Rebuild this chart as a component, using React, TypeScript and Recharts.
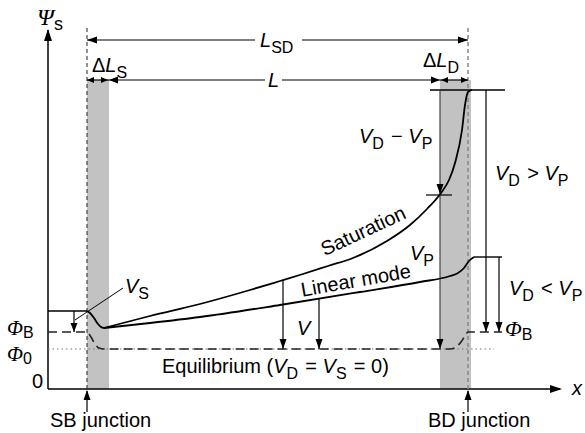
import React from 'react';
import {
  LineChart,
  Line,
  XAxis,
  YAxis,
  ReferenceArea,
  ReferenceLine,
  ReferenceDot,
} from 'recharts';

// position along channel (x) and surface potential (psi), arbitrary units
const sourceDrop = [
  { x: 39, y: 78 },
  { x: 42, y: 76 },
  { x: 46, y: 71 },
  { x: 50, y: 65 },
  { x: 53, y: 62 },
  { x: 56, y: 61 },
];

const saturation = [
  { x: 56, y: 61 },
  { x: 102, y: 73 },
  { x: 152, y: 85 },
  { x: 202, y: 99 },
  { x: 232, y: 108 },
  { x: 255, y: 115 },
  { x: 280, y: 123 },
  { x: 305, y: 131 },
  { x: 339, y: 148 },
  { x: 362, y: 164 },
  { x: 379, y: 180 },
  { x: 393, y: 196 },
  { x: 401, y: 209 },
  { x: 407, y: 226 },
  { x: 414, y: 259 },
  { x: 417, y: 284 },
  { x: 420, y: 297 },
  { x: 424, y: 299 },
];

const linearMode = [
  { x: 56, y: 61 },
  { x: 102, y: 66 },
  { x: 152, y: 72 },
  { x: 232, y: 84 },
  { x: 312, y: 97 },
  { x: 372, y: 107 },
  { x: 402, y: 113 },
  { x: 410, y: 116 },
  { x: 416, y: 121 },
  { x: 421, y: 128 },
  { x: 426, y: 132 },
];

const equilibrium = [
  { x: 0, y: 57 },
  { x: 39, y: 57 },
  { x: 43, y: 52 },
  { x: 47, y: 45 },
  { x: 51, y: 41 },
  { x: 56, y: 40 },
  { x: 402, y: 40 },
  { x: 408, y: 42 },
  { x: 413, y: 47 },
  { x: 417, y: 53 },
  { x: 420, y: 57 },
  { x: 454, y: 57 },
];

// junctions, bands and levels
const SB = 39;
const BD = 420;
const sourceBand = [39, 61];
const drainBand = [392, 423];
const PHI0 = 40;
const PHIB = 57;
const VS_LEVEL = 78;
const VP_LEVEL = 132;
const PINCH = 194;
const TOP_LEVEL = 299;
const L_ROW = 309;
const LSD_ROW = 349;

const SANS = '"Liberation Sans", Arial, sans-serif';
const SERIF = '"Liberation Serif", "Times New Roman", serif';
const FS = 20;
const SUB = 16;

type Dir = 'up' | 'down' | 'left' | 'right';

const arrowHead = (dir: Dir, len = 10, hw = 3.5) => (p: any) => {
  const { cx, cy } = p;
  let pts = '';
  if (dir === 'down') pts = `${cx},${cy} ${cx - hw},${cy - len} ${cx + hw},${cy - len}`;
  if (dir === 'up') pts = `${cx},${cy} ${cx - hw},${cy + len} ${cx + hw},${cy + len}`;
  if (dir === 'left') pts = `${cx},${cy} ${cx + len},${cy - hw} ${cx + len},${cy + hw}`;
  if (dir === 'right') pts = `${cx},${cy} ${cx - len},${cy - hw} ${cx - len},${cy + hw}`;
  return <polygon points={pts} fill="#000" />;
};

const textShape = (content: React.ReactNode, anchor = 'start', rotate = 0) => (p: any) => (
  <text
    x={p.cx}
    y={p.cy}
    textAnchor={anchor}
    fontFamily={SANS}
    fontSize={FS}
    fill="#000"
    transform={rotate ? `rotate(${rotate} ${p.cx} ${p.cy})` : undefined}
  >
    {content}
  </text>
);

const It = ({ children }: { children: React.ReactNode }) => (
  <tspan fontStyle="italic">{children}</tspan>
);
const Gr = ({ children, size = FS + 2 }: { children: React.ReactNode; size?: number }) => (
  <tspan fontStyle="italic" fontFamily={SERIF} fontSize={size}>
    {children}
  </tspan>
);
const Sub = ({ children, dy = 6 }: { children: React.ReactNode; dy?: number }) => (
  <>
    <tspan fontSize={SUB} dy={dy}>
      {children}
    </tspan>
    <tspan dy={-dy}>{'\u200a'}</tspan>
  </>
);

const seg = (x1: number, y1: number, x2: number, y2: number, key: string, extra: any = {}) => (
  <ReferenceLine
    key={key}
    segment={[
      { x: x1, y: y1 },
      { x: x2, y: y2 },
    ]}
    stroke="#000"
    strokeWidth={1.2}
    ifOverflow="visible"
    {...extra}
  />
);

const dot = (x: number, y: number, shape: any, key: string) => (
  <ReferenceDot key={key} x={x} y={y} r={0} ifOverflow="visible" shape={shape} />
);

export default function App() {
  return (
    <div style={{ position: 'absolute', left: 0, top: 0, background: '#fff' }}>
      <LineChart
        width={585}
        height={433}
        margin={{ top: 29, right: 21, bottom: 44, left: 48 }}
      >
        <XAxis type="number" dataKey="x" domain={[0, 516]} allowDataOverflow hide />
        <YAxis type="number" domain={[0, 360]} allowDataOverflow hide />

        <ReferenceArea
          x1={sourceBand[0]}
          x2={sourceBand[1]}
          y1={0}
          y2={L_ROW}
          fill="#c2c2c2"
          fillOpacity={1}
          stroke="none"
          ifOverflow="visible"
        />
        <ReferenceArea
          x1={drainBand[0]}
          x2={drainBand[1]}
          y1={0}
          y2={L_ROW}
          fill="#c2c2c2"
          fillOpacity={1}
          stroke="none"
          ifOverflow="visible"
        />

        {/* axes */}
        {seg(0, 0, 0, 359, 'yax', { strokeWidth: 1.5 })}
        {seg(0, 0, 512, 0, 'xax', { strokeWidth: 1.5 })}
        {dot(0, 360, arrowHead('up', 12, 4), 'yah')}
        {dot(514, 0, arrowHead('right', 12, 4), 'xah')}

        {/* junction dashed lines */}
        {seg(SB, 0, SB, 362, 'sbl', { strokeDasharray: '4 3', stroke: '#222', strokeWidth: 1 })}
        {seg(BD, 0, BD, 361, 'bdl', { strokeDasharray: '4 3', stroke: '#888', strokeWidth: 1.5 })}

        {/* phi0 dotted */}
        {seg(0, PHI0, 446, PHI0, 'phi0', { strokeDasharray: '1.5 3', stroke: '#777', strokeWidth: 1 })}

        {/* top dimension arrows */}
        {seg(SB, LSD_ROW, 207, LSD_ROW, 'lsd1')}
        {seg(254, LSD_ROW, BD, LSD_ROW, 'lsd2')}
        {dot(SB, LSD_ROW, arrowHead('left'), 'lsda')}
        {dot(BD, LSD_ROW, arrowHead('right'), 'lsdb')}
        {seg(sourceBand[1], L_ROW, 217, L_ROW, 'l1')}
        {seg(234, L_ROW, drainBand[0], L_ROW, 'l2')}
        {dot(sourceBand[1], L_ROW, arrowHead('left', 9), 'la')}
        {dot(drainBand[0], L_ROW, arrowHead('right', 9), 'lb')}
        {seg(SB, L_ROW, sourceBand[1], L_ROW, 'dls')}
        {dot(SB, L_ROW, arrowHead('left', 7, 3), 'dlsa')}
        {dot(sourceBand[1] - 1, L_ROW, arrowHead('right', 7, 3), 'dlsb')}
        {seg(drainBand[0], L_ROW, BD, L_ROW, 'dld')}
        {dot(drainBand[0] + 1, L_ROW, arrowHead('left', 7, 3), 'dlda')}
        {dot(BD, L_ROW, arrowHead('right', 7, 3), 'dldb')}

        {/* source side */}
        {seg(0, VS_LEVEL, SB, VS_LEVEL, 'vsl', { strokeWidth: 1.4 })}
        {seg(26, VS_LEVEL, 26, PHIB, 'vsa')}
        {dot(26, PHIB, arrowHead('down', 9, 3.5), 'vsah')}
        {seg(27, 69, 75, 101, 'vslead', { strokeWidth: 1 })}

        {/* drain side */}
        {seg(382, TOP_LEVEL, 457, TOP_LEVEL, 'top', { strokeWidth: 1.4 })}
        {seg(378, PINCH, 404, PINCH, 'pinch')}
        {seg(426, VP_LEVEL, 454, VP_LEVEL, 'vpl', { strokeWidth: 1.4 })}
        {seg(drainBand[0], TOP_LEVEL, drainBand[0], PINCH, 'dvp', { stroke: '#444' })}
        {dot(drainBand[0], PINCH + 1, arrowHead('down', 10, 3.5), 'dvpa')}
        {seg(drainBand[0], PINCH, drainBand[0], PHI0, 'dv', { stroke: '#444' })}
        {dot(drainBand[0], PHI0, arrowHead('down', 10, 3.5), 'dva')}
        {seg(438, TOP_LEVEL, 438, PHIB, 'vdgt')}
        {dot(438, PHIB, arrowHead('down', 10, 3.5), 'vdgta')}
        {seg(451, VP_LEVEL, 451, PHIB, 'vdlt')}
        {dot(451, PHIB, arrowHead('down', 10, 3.5), 'vdlta')}

        {/* V arrows in channel */}
        {seg(235, 109, 235, PHI0, 'v1')}
        {dot(235, PHI0, arrowHead('down', 10, 3.5), 'v1a')}
        {seg(271, 90, 271, PHI0, 'v2')}
        {dot(271, PHI0, arrowHead('down', 10, 3.5), 'v2a')}

        {/* junction pointers */}
        {seg(SB, -23, SB, -2, 'sbp')}
        {dot(SB, -1, arrowHead('up', 10, 3.5), 'sbpa')}
        {seg(BD, -23, BD, -2, 'bdp')}
        {dot(BD, -1, arrowHead('up', 10, 3.5), 'bdpa')}

        {/* potential curves */}
        <Line
          data={equilibrium}
          dataKey="y"
          type="monotone"
          stroke="#222"
          strokeWidth={1.6}
          strokeDasharray="9 5"
          dot={false}
          isAnimationActive={false}
        />
        <Line
          data={sourceDrop}
          dataKey="y"
          type="monotone"
          stroke="#000"
          strokeWidth={1.8}
          dot={false}
          isAnimationActive={false}
        />
        <Line
          data={saturation}
          dataKey="y"
          type="monotone"
          stroke="#000"
          strokeWidth={1.8}
          dot={false}
          isAnimationActive={false}
        />
        <Line
          data={linearMode}
          dataKey="y"
          type="monotone"
          stroke="#000"
          strokeWidth={1.8}
          dot={false}
          isAnimationActive={false}
        />

        {/* labels */}
        {dot(-11, 364, textShape(<><Gr size={24}>Ψ</Gr><tspan fontSize={SUB + 2} dy={5}>s</tspan></>), 't-psi')}
        {dot(212, 342, textShape(<><It>L</It><Sub>SD</Sub></>), 't-lsd')}
        {dot(220, 302, textShape(<It>L</It>), 't-l')}
        {dot(44, 317, textShape(<>Δ<It>L</It><Sub>S</Sub></>), 't-dls')}
        {dot(375, 322, textShape(<>Δ<It>L</It><Sub>D</Sub></>), 't-dld')}
        {dot(386, 246, textShape(<><It>V</It><Sub>D</Sub> − <It>V</It><Sub>P</Sub></>, 'end'), 't-vdvp')}
        {dot(447, 209, textShape(<><It>V</It><Sub>D</Sub> &gt; <It>V</It><Sub>P</Sub></>), 't-vdgt')}
        {dot(536, 94, textShape(<><It>V</It><Sub>D</Sub> &lt; <It>V</It><Sub>P</Sub></>, 'end'), 't-vdlt')}
        {dot(362, 129, textShape(<><It>V</It><Sub>P</Sub></>), 't-vp')}
        {dot(249, 54, textShape(<It>V</It>), 't-v')}
        {dot(457, 53, textShape(<><Gr>Φ</Gr><Sub dy={4}>B</Sub></>), 't-phibr')}
        {dot(-41, 54, textShape(<><Gr size={21}>Φ</Gr><Sub dy={3}>B</Sub></>), 't-phibl')}
        {dot(-41, 28, textShape(<><Gr size={21}>Φ</Gr><Sub dy={3}>0</Sub></>), 't-phi0')}
        {dot(-5, 1, textShape('0', 'end'), 't-zero')}
        {dot(77, 96, textShape(<><It>V</It><Sub>S</Sub></>), 't-vs')}
        {dot(114, 16, textShape(<>Equilibrium (<It>V</It><Sub>D</Sub> = <It>V</It><Sub>S</Sub> = 0)</>), 't-eq')}
        {dot(524, -6, textShape(<It>x</It>), 't-x')}
        {dot(2, -38, textShape('SB junction'), 't-sb')}
        {dot(380, -38, textShape('BD junction'), 't-bd')}
        {dot(318, 152, textShape('Saturation', 'middle', -25), 't-sat')}
        {dot(309, 102, textShape('Linear mode', 'middle', -10), 't-lin')}
      </LineChart>
    </div>
  );
}
